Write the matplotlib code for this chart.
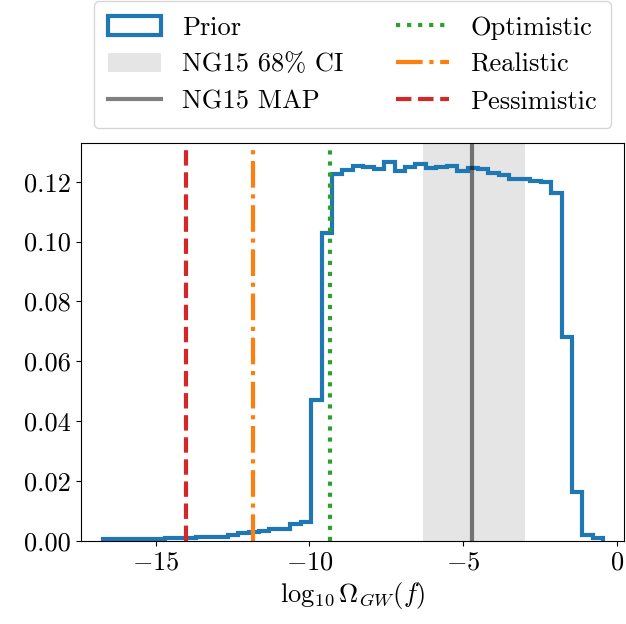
import numpy as np
import matplotlib
matplotlib.use('Agg')
import matplotlib.pyplot as plt

# prior density per bin, 48 equal bins
bin_lo = -16.73
bin_hi = -0.44
prior_density = [
    0.0004, 0.0004, 0.0005, 0.0005, 0.0005, 0.0006, 0.0008, 0.0008,
    0.0010, 0.0011, 0.0013, 0.0014, 0.0019, 0.0025, 0.0029, 0.0033,
    0.0039, 0.0040, 0.0055, 0.0063, 0.0470, 0.1028, 0.1226, 0.1239,
    0.1253, 0.1251, 0.1244, 0.1266, 0.1237, 0.1251, 0.1260, 0.1245,
    0.1250, 0.1252, 0.1237, 0.1245, 0.1242, 0.1231, 0.1223, 0.1210,
    0.1209, 0.1204, 0.1199, 0.1162, 0.0682, 0.0164, 0.0019, 0.0008,
]

ng15_ci = (-6.31, -2.98)
ng15_map = -4.70
scenarios = ["Optimistic", "Realistic", "Pessimistic"]
scenario_vals = [-9.32, -11.85, -14.02]
scenario_colors = ["C2", "C1", "C3"]
scenario_styles = [":", "-.", "--"]

plt.rcParams.update({
    "font.family": "serif",
    "font.serif": ["cmr10"],
    "mathtext.fontset": "cm",
    "axes.formatter.use_mathtext": True,
    "font.size": 19,
    "axes.unicode_minus": True,
})

fig = plt.figure(figsize=(6.26, 6.24), dpi=100)
ax = fig.add_axes([0.129, 0.1335, 0.868, 0.637])

edges = np.linspace(bin_lo, bin_hi, len(prior_density) + 1)
ax.hist(edges[:-1], bins=edges, weights=prior_density, histtype="step",
        lw=3, color="C0", label="Prior")
ax.axvspan(ng15_ci[0], ng15_ci[1], color="gray", alpha=0.2, lw=0,
           label="NG15 68% CI", zorder=0)
ax.axvline(ng15_map, color="k", alpha=0.5, lw=3, label="NG15 MAP")
for name, v, c, ls in zip(scenarios, scenario_vals, scenario_colors, scenario_styles):
    ax.axvline(v, color=c, ls=ls, lw=3, label=name)

ax.set_xlim(-17.44, 0.24)
ax.set_ylim(0, 0.1329)
ax.set_xticks([-15, -10, -5, 0])
ax.set_yticks([0, 0.02, 0.04, 0.06, 0.08, 0.10, 0.12])
ax.yaxis.set_major_formatter(matplotlib.ticker.FormatStrFormatter("%.2f"))
ax.set_xlabel(r"$\log_{10}\Omega_{GW}(f)$")

ax.legend(ncol=2, loc="lower center", bbox_to_anchor=(0.5, 1.005),
          fontsize=19, columnspacing=2.0, borderpad=0.55)

fig.savefig("out.png", dpi=100)
